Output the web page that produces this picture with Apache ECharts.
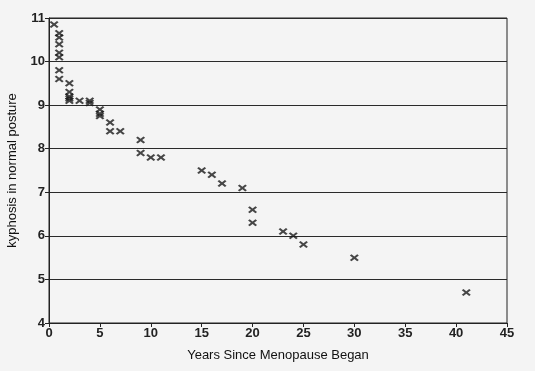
<!DOCTYPE html>
<html><head><meta charset="utf-8">
<script src="https://cdn.jsdelivr.net/npm/echarts@6/dist/echarts.min.js"></script>
<style>html,body{margin:0;padding:0;background:#f4f4f4}#c{width:535px;height:371px}</style>
</head><body><div id="c"></div>
<script>
const yearsSince = [0.5, 1, 1, 1, 1, 1, 1, 1, 2, 2, 2, 2, 2, 3, 4, 4, 5, 5, 5, 6, 6, 7, 9, 9, 10, 11, 15, 16, 17, 19, 20, 20, 23, 24, 25, 30, 41];
const kyphosis   = [10.85, 10.65, 10.55, 10.4, 10.2, 10.1, 9.8, 9.6, 9.5, 9.3, 9.2, 9.15, 9.1, 9.1, 9.1, 9.05, 8.9, 8.8, 8.75, 8.6, 8.4, 8.4, 8.2, 7.9, 7.8, 7.8, 7.5, 7.4, 7.2, 7.1, 6.6, 6.3, 6.1, 6.0, 5.8, 5.5, 4.7];
const xTicks = [0, 5, 10, 15, 20, 25, 30, 35, 40, 45];
const yTicks = [4, 5, 6, 7, 8, 9, 10, 11];

const points = yearsSince.map((x, i) => [x, kyphosis[i]]);
const xSym = 'path://M0,1.8L1.8,0L5,3.2L8.2,0L10,1.8L6.8,5L10,8.2L8.2,10L5,6.8L1.8,10L0,8.2L3.2,5Z';
const font = 'Liberation Sans';
const chart = echarts.init(document.getElementById('c'));
chart.setOption({
  backgroundColor: '#f4f4f4',
  animation: false,
  grid: { left: 49, right: 28, top: 18, bottom: 48, show: true, borderColor: '#222', borderWidth: 1, backgroundColor: 'transparent', containLabel: false, outerBoundsMode: 'none' },
  xAxis: {
    type: 'value', min: xTicks[0], max: xTicks[xTicks.length - 1], interval: 5,
    name: 'Years Since Menopause Began', nameLocation: 'middle', nameGap: 26,
    nameTextStyle: { fontFamily: font, fontSize: 13, color: '#111' },
    axisLine: { lineStyle: { color: '#222', width: 1 } },
    axisTick: { show: true, length: 4, lineStyle: { color: '#222' } },
    axisLabel: { fontFamily: font, fontSize: 13, fontWeight: 'bold', color: '#222', margin: 4 },
    splitLine: { show: false }
  },
  yAxis: {
    type: 'value', min: yTicks[0], max: yTicks[yTicks.length - 1], interval: 1,
    name: 'kyphosis in normal posture', nameLocation: 'middle', nameGap: 30, nameRotate: 90,
    nameTextStyle: { fontFamily: font, fontSize: 13, color: '#111' },
    axisLine: { show: true, lineStyle: { color: '#222', width: 1 } },
    axisTick: { show: true, length: 4, lineStyle: { color: '#222' } },
    axisLabel: { fontFamily: font, fontSize: 13, fontWeight: 'bold', color: '#222', margin: 4 },
    splitLine: { show: true, lineStyle: { color: '#2a2a2a', width: 1.2 } }
  },
  series: [{
    type: 'scatter', data: points, symbol: xSym, symbolSize: [9, 7],
    itemStyle: { color: '#1a1a1a' }
  }]
});
</script></body></html>
